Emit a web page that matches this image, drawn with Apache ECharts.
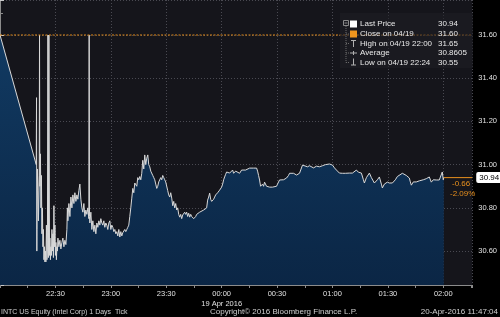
<!DOCTYPE html>
<html>
<head>
<meta charset="utf-8">
<script src="https://cdn.jsdelivr.net/npm/echarts@6/dist/echarts.min.js"></script>
<style>
html,body{margin:0;padding:0;background:#000;}
#chart{width:500px;height:317px;}
</style>
</head>
<body>
<div id="chart"></div>
<script>
// minutes after 22:00 (18 Apr) for each tick of INTC price
const minutesAfter2200 = [
0,19.62,19.78,19.94,20.00,20.27,20.54,20.81,21.24,21.40,21.57,21.89,22.16,22.43,22.70,22.97,23.24,23.51,23.78,24.05,
24.32,24.59,24.86,25.13,25.40,25.67,25.94,26.21,26.48,26.65,26.81,27.03,27.30,27.57,27.84,28.11,28.38,28.65,28.92,29.19,
29.46,29.73,30.00,30.27,30.54,30.81,31.08,31.35,31.89,32.43,32.97,33.51,34.05,34.59,35.13,35.67,36.21,36.48,36.75,37.29,
37.84,38.38,38.92,39.46,40.00,40.54,41.08,41.62,42.16,42.70,43.24,43.78,44.32,44.86,45.40,45.94,46.48,47.02,47.56,48.10,
48.27,48.43,48.65,49.19,49.73,50.27,50.81,51.35,51.89,52.43,52.97,53.51,54.05,54.59,55.13,55.67,56.21,56.75,57.29,57.83,
58.37,58.91,59.46,60.00,60.54,61.08,61.62,62.16,62.70,63.24,63.78,64.32,64.86,65.40,65.94,66.48,67.02,67.56,68.10,68.64,
69.18,69.72,70.27,70.81,71.35,71.89,72.43,72.97,73.51,74.05,74.59,75.13,75.67,76.21,76.75,77.29,77.83,78.37,78.91,79.45,
80.00,80.53,81.08,81.62,82.16,82.70,83.24,83.78,84.32,84.86,85.40,85.94,86.48,87.02,87.56,88.10,88.64,89.18,89.72,90.26,
90.80,91.34,91.89,92.43,92.97,93.51,94.05,94.59,95.13,95.67,96.21,96.75,97.29,97.83,98.37,98.91,99.45,99.99,100.53,101.07,
101.61,102.15,102.70,103.24,103.78,104.32,104.86,105.40,105.94,106.48,107.02,107.56,108.10,109.18,110.26,111.34,111.88,112.42,112.96,113.51,
114.05,114.59,115.13,115.67,116.21,116.75,117.29,117.83,118.37,118.91,119.45,119.99,120.53,121.07,121.61,122.15,122.69,123.23,123.77,124.32,
124.86,125.40,125.94,126.48,127.02,127.56,128.10,128.64,129.72,130.80,131.88,132.96,134.04,135.13,136.21,137.29,138.91,139.45,139.99,140.53,
141.07,141.61,142.15,142.69,143.23,143.77,144.31,144.85,145.94,147.02,147.56,148.64,149.72,150.26,151.34,152.42,153.50,155.12,156.20,156.75,
157.83,158.91,160.53,162.15,163.23,163.77,164.85,166.47,167.56,168.64,169.72,171.34,172.96,174.58,176.20,178.37,179.99,181.07,182.15,183.77,
185.39,187.01,189.18,190.80,191.88,192.96,194.04,194.58,195.66,196.74,197.28,198.36,199.99,201.07,202.69,204.31,205.39,206.47,207.01,208.09,
209.71,210.80,212.42,214.04,215.12,216.20,217.82,218.90,219.98,221.61,222.15,222.69,223.77,224.31,225.39,225.93,227.01,228.09,229.17,229.71,
230.79,232.42,233.50,234.58,236.20,237.82,238.90,239.44,239.98,240.25
];
const prices = [
31.60,31.00,31.31,30.60,30.70,30.98,30.88,30.74,30.95,31.60,30.90,31.05,30.80,30.95,30.68,30.80,30.62,30.70,30.56,30.62,
30.55,30.60,30.55,30.72,30.56,30.60,31.60,30.57,31.60,31.60,30.58,30.66,30.56,30.62,30.58,30.70,30.60,30.68,30.57,30.81,
30.62,30.72,30.58,30.64,30.56,30.62,30.60,30.66,30.62,30.65,30.61,30.64,30.66,30.62,30.65,30.63,30.70,30.80,30.74,30.82,
30.76,30.85,30.80,30.86,30.82,30.87,30.83,30.86,30.84,30.88,30.91,30.84,30.80,30.78,30.82,30.76,30.79,30.77,30.80,30.75,
31.60,30.76,30.73,30.78,30.70,30.74,30.69,30.72,30.68,30.73,30.71,30.74,30.72,30.75,30.73,30.72,30.74,30.71,30.73,30.72,
30.70,30.73,30.74,30.70,30.72,30.71,30.69,30.70,30.68,30.69,30.67,30.70,30.665,30.69,30.67,30.685,30.68,30.70,30.69,30.70,
30.71,30.72,30.76,30.80,30.845,30.89,30.87,30.915,30.92,30.90,30.94,30.93,30.945,30.93,30.96,31.02,30.98,31.045,31.00,31.03,
31.045,31.00,30.99,30.97,30.965,30.95,30.94,30.93,30.91,30.89,30.90,30.92,30.92,30.94,30.93,30.95,30.94,30.93,30.92,30.92,
30.88,30.86,30.85,30.87,30.845,30.81,30.83,30.80,30.82,30.79,30.80,30.77,30.757,30.77,30.75,30.767,30.77,30.78,30.77,30.78,
30.76,30.775,30.757,30.77,30.76,30.767,30.75,30.743,30.76,30.77,30.776,30.77,30.78,30.78,30.79,30.795,30.80,30.836,30.85,30.868,
30.84,30.83,30.827,30.84,30.85,30.86,30.859,30.87,30.875,30.882,30.89,30.896,30.91,30.93,30.943,30.955,30.966,30.96,30.965,30.961,
30.96,30.97,30.975,30.96,30.965,30.97,30.961,30.966,30.96,30.975,30.97,30.975,30.98,30.984,30.98,30.984,30.984,30.97,30.95,30.929,
30.90,30.892,30.91,30.90,30.919,30.91,30.90,30.896,30.896,30.89,30.896,30.892,30.90,30.91,30.929,30.93,30.93,30.938,30.95,30.96,
30.966,30.96,30.952,30.96,30.966,30.998,30.995,30.99,30.995,30.99,30.985,30.993,30.99,30.995,31.00,31.003,30.998,30.985,30.975,30.961,
30.96,30.96,30.961,30.961,30.97,30.975,30.965,30.97,30.961,30.93,30.915,30.94,30.961,30.94,30.915,30.93,30.943,30.91,30.892,30.91,
30.919,30.915,30.915,30.93,30.945,30.952,30.96,30.966,30.95,30.938,30.92,30.905,30.92,30.929,30.92,30.915,30.925,30.933,30.93,30.929,
30.935,30.943,30.919,30.93,30.929,30.929,30.93,30.966,30.93,30.94
];

const closePrice = 31.60;
const lastPrice = 30.94;
const changeText = ['-0.66', '-2.09%'];
const sessionDateLabel = '19 Apr 2016';
const xRange = [0, 255.66];
const yRange = [30.443, 31.762];
const legendRows = [
  {label: 'Last Price', value: '30.94'},
  {label: 'Close on 04/19', value: '31.60'},
  {label: 'High on 04/19 22:00', value: '31.65'},
  {label: 'Average', value: '30.8605'},
  {label: 'Low on 04/19 22:24', value: '30.55'}
];
const footerLeft = 'INTC US Equity (Intel Corp) 1 Days  Tick';
const footerMid = 'Copyright\u00a9 2016 Bloomberg Finance L.P.';
const footerRight = '20-Apr-2016 11:47:04';

const FONT = 'Liberation Sans';
const ORANGE = '#e8901e';
const data = minutesAfter2200.map((m, i) => [m, prices[i]]);
const lastMinute = minutesAfter2200[minutesAfter2200.length - 1];

function fmtTime(v) {
  const total = Math.round(22 * 60 + v);
  const h = Math.floor(total / 60) % 24;
  const m = total % 60;
  return String(h).padStart(2, '0') + ':' + String(m).padStart(2, '0');
}

const chart = echarts.init(document.getElementById('chart'), null, {renderer: 'canvas'});

const legendGraphics = [];
const rowY = [24, 34, 43.5, 53, 62.5];
legendGraphics.push({type: 'rect', shape: {x: 340, y: 13, width: 133, height: 55}, style: {fill: 'rgba(30,30,36,0.6)'}, z: 50});
legendGraphics.push({type: 'rect', shape: {x: 343.5, y: 20.5, width: 5, height: 5}, style: {fill: 'none', stroke: '#8a8a8a', lineWidth: 1}, z: 51});
legendGraphics.push({type: 'line', shape: {x1: 344.5, y1: 23, x2: 347.5, y2: 23}, style: {stroke: '#8a8a8a', lineWidth: 1}, z: 51});
legendGraphics.push({type: 'line', shape: {x1: 346, y1: 26, x2: 346, y2: 62.5}, style: {stroke: '#6a6a6a', lineWidth: 1, lineDash: [1, 1]}, z: 51});
[34, 43.5, 53, 62.5].forEach(y => legendGraphics.push({type: 'line', shape: {x1: 346, y1: y, x2: 349, y2: y}, style: {stroke: '#6a6a6a', lineWidth: 1, lineDash: [1, 1]}, z: 51}));
legendGraphics.push({type: 'rect', shape: {x: 350, y: 20.5, width: 7, height: 7}, style: {fill: '#ffffff'}, z: 51});
legendGraphics.push({type: 'rect', shape: {x: 350, y: 30.5, width: 7, height: 7}, style: {fill: '#f0961e'}, z: 51});
legendGraphics.push({type: 'line', shape: {x1: 351, y1: 40.5, x2: 356, y2: 40.5}, style: {stroke: '#b0b0b0', lineWidth: 1}, z: 51});
legendGraphics.push({type: 'line', shape: {x1: 353.5, y1: 40.5, x2: 353.5, y2: 47}, style: {stroke: '#b0b0b0', lineWidth: 1}, z: 51});
legendGraphics.push({type: 'line', shape: {x1: 350, y1: 53, x2: 357, y2: 53}, style: {stroke: '#b0b0b0', lineWidth: 1}, z: 51});
legendGraphics.push({type: 'line', shape: {x1: 353.5, y1: 51, x2: 353.5, y2: 55}, style: {stroke: '#b0b0b0', lineWidth: 1}, z: 51});
legendGraphics.push({type: 'line', shape: {x1: 353.5, y1: 58.5, x2: 353.5, y2: 65}, style: {stroke: '#b0b0b0', lineWidth: 1}, z: 51});
legendGraphics.push({type: 'line', shape: {x1: 351, y1: 65, x2: 356, y2: 65}, style: {stroke: '#b0b0b0', lineWidth: 1}, z: 51});
legendRows.forEach((r, i) => {
  legendGraphics.push({type: 'text', x: 360, y: rowY[i], style: {text: r.label, fill: '#e8e8e8', font: '8px ' + FONT, textVerticalAlign: 'middle'}, z: 52});
  legendGraphics.push({type: 'text', x: 438, y: rowY[i], style: {text: r.value, fill: '#e8e8e8', font: '8px ' + FONT, textVerticalAlign: 'middle'}, z: 52});
});

const option = {
  backgroundColor: '#000',
  animation: false,
  grid: {left: 0, right: 27, top: 0, bottom: 32, show: true, backgroundColor: '#15151b', borderWidth: 0},
  xAxis: {
    type: 'value', min: xRange[0], max: xRange[1],
    minInterval: 30, maxInterval: 30,
    axisLine: {show: true, lineStyle: {color: '#8c8c8c', width: 1}},
    axisTick: {show: true, length: 3, lineStyle: {color: '#8c8c8c'}},
    minorTick: {show: true, splitNumber: 2, length: 3, lineStyle: {color: '#8c8c8c'}},
    splitLine: {show: true, lineStyle: {color: '#4a4a52', type: [1, 2], width: 1}},
    axisLabel: {
      showMinLabel: false, showMaxLabel: false,
      color: '#e0e0e0', fontSize: 7.5, fontFamily: FONT, margin: 4, lineHeight: 10,
      formatter: v => (Math.abs(v - 120) < 0.01 ? fmtTime(v) + '\n' + sessionDateLabel : fmtTime(v))
    }
  },
  yAxis: {
    type: 'value', position: 'right', min: yRange[0], max: yRange[1],
    minInterval: 0.2, maxInterval: 0.2,
    axisLine: {show: true, lineStyle: {color: '#8c8c8c', width: 1}},
    axisTick: {show: true, length: 4, lineStyle: {color: '#c8c8c8'}},
    minorTick: {show: true, splitNumber: 2, length: 3, lineStyle: {color: '#8c8c8c'}},
    splitLine: {show: true, lineStyle: {color: '#4a4a52', type: [1, 2], width: 1}},
    axisLabel: {
      showMinLabel: false, showMaxLabel: false,
      color: '#e0e0e0', fontSize: 7.5, fontFamily: FONT, margin: 6,
      formatter: v => v.toFixed(2)
    }
  },
  series: [
    {
      type: 'line',
      data: data,
      showSymbol: false,
      symbol: 'none',
      silent: true,
      z: 2,
      lineStyle: {color: '#d8d8d8', width: 1},
      areaStyle: {origin: 'start', color: {type: 'linear', x: 0, y: 0, x2: 0, y2: 1, colorStops: [{offset: 0, color: '#113a62'}, {offset: 1, color: '#0b2645'}]}, opacity: 1}
    },
    {
      type: 'line',
      data: [[xRange[0], closePrice], [xRange[1], closePrice]],
      showSymbol: false, symbol: 'none', silent: true, z: 3,
      lineStyle: {color: '#e08a1c', width: 1.2, type: [2, 1.5]}
    },
    {
      type: 'line',
      data: [[lastMinute, lastPrice], [xRange[1], lastPrice]],
      showSymbol: false, symbol: 'none', silent: true, z: 4,
      lineStyle: {color: ORANGE, width: 1, type: 'solid'},
      endLabel: {
        show: true, formatter: lastPrice.toFixed(2), backgroundColor: '#ffffff', color: '#000',
        fontSize: 8, fontFamily: FONT, padding: [2, 3, 1, 3], borderRadius: 2, distance: 4
      }
    }
  ],
  graphic: legendGraphics.concat([
    {type: 'text', x: 452, y: 183.5, style: {text: changeText[0], fill: ORANGE, font: '8px ' + FONT, textVerticalAlign: 'middle'}, z: 60},
    {type: 'text', x: 450, y: 193.5, style: {text: changeText[1], fill: ORANGE, font: '8px ' + FONT, textVerticalAlign: 'middle'}, z: 60},
    {type: 'text', x: 1, y: 312, style: {text: footerLeft, fill: '#cfcfcf', font: '7px ' + FONT, textVerticalAlign: 'middle'}, z: 60},
    {type: 'text', x: 210, y: 312, style: {text: footerMid, fill: '#cfcfcf', font: '8px ' + FONT, textVerticalAlign: 'middle'}, z: 60},
    {type: 'text', x: 498, y: 312, style: {text: footerRight, fill: '#cfcfcf', font: '8px ' + FONT, textAlign: 'right', textVerticalAlign: 'middle'}, z: 60}
  ])
};
chart.setOption(option);
</script>
</body>
</html>
